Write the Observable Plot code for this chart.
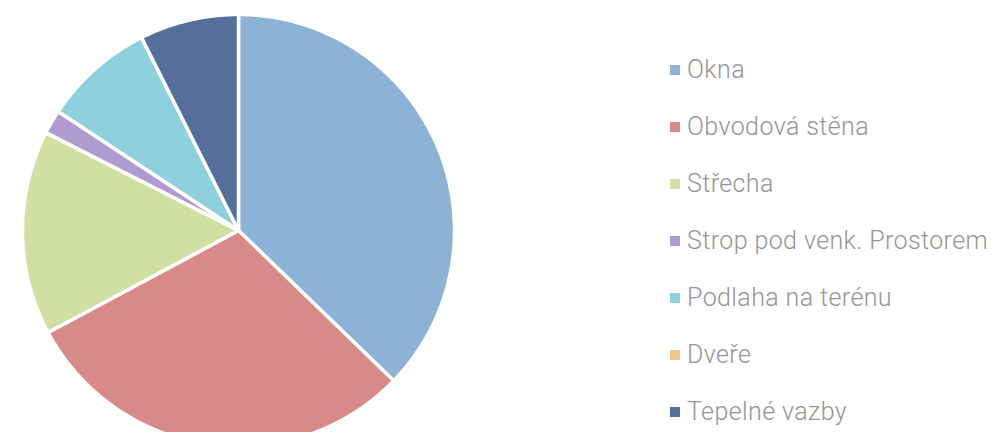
<!DOCTYPE html>
<html>
<head>
<meta charset="utf-8">
<script src="https://cdn.jsdelivr.net/npm/d3@7"></script>
<script src="https://cdn.jsdelivr.net/npm/@observablehq/plot@0.6"></script>
<style>
  html, body { margin: 0; padding: 0; background: #fff; }
  #wrap { position: relative; width: 1008px; height: 432px; overflow: hidden; }
  #chart { position: absolute; left: 0; top: 0; }
  #legend { position: absolute; left: 670px; top: 41px; font-family: Roboto, "Open Sans", sans-serif; font-weight: 300; font-size: 25px; letter-spacing: 0.4px; color: #959595; }
  .item { display: flex; align-items: center; height: 57px; white-space: nowrap; }
  .sw { width: 10px; height: 10px; margin-right: 7px; display: inline-block; flex: none; }
</style>
</head>
<body>
<div id="wrap"><div id="chart"></div><div id="legend"></div></div>
<script>
const categories = ["Okna", "Obvodová stěna", "Střecha", "Strop pod venk. Prostorem", "Podlaha na terénu", "Dveře", "Tepelné vazby"];
const values = [37.2, 29.9, 15.3, 1.8, 8.3, 0, 7.4];
const colors = ["#8cb2d6", "#d88a88", "#d1dfa3", "#b09bd0", "#8ed0de", "#f3c58f", "#546f9a"];

const pie = d3.pie().sort(null).value(d => d.value)(categories.map((c, i) => ({key: c, value: values[i]})));
const points = [];
for (const s of pie) {
  if (s.endAngle - s.startAngle <= 0) continue;
  const k = s.data.key;
  points.push({key: k, x: 0, y: 0});
  const n = 120;
  for (let j = 0; j <= n; j++) {
    const a = s.startAngle + (s.endAngle - s.startAngle) * j / n;
    points.push({key: k, x: Math.sin(a), y: Math.cos(a)});
  }
  points.push({key: k, x: 0, y: 0});
}

const cx = 238, cy = 230, r = 216;
const chart = Plot.plot({
  width: 470,
  height: 432,
  margin: 0,
  x: {domain: [-1, 1], range: [cx - r, cx + r], axis: null},
  y: {domain: [-1, 1], range: [cy + r, cy - r], axis: null},
  color: {domain: categories, range: colors},
  marks: [
    Plot.line(points, {x: "x", y: "y", z: "key", fill: "key", stroke: "white", strokeWidth: 3.5, strokeLinejoin: "miter", curve: "linear"})
  ]
});
document.getElementById("chart").appendChild(chart);

const legend = document.getElementById("legend");
categories.forEach((c, i) => {
  const item = document.createElement("div");
  item.className = "item";
  const sw = document.createElement("span");
  sw.className = "sw";
  sw.style.background = colors[i];
  item.appendChild(sw);
  item.appendChild(document.createTextNode(c));
  legend.appendChild(item);
});
</script>
</body>
</html>
